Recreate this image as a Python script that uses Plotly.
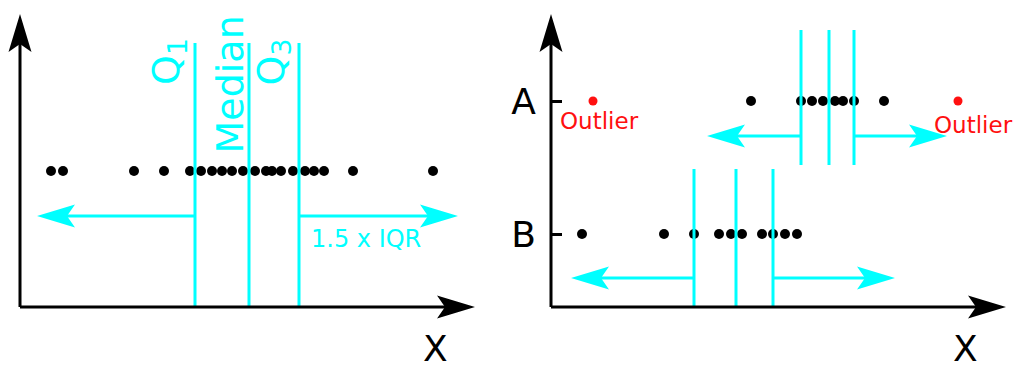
import plotly.graph_objects as go

# ---------------- data (X units) ----------------
left_values = [3.1, 4.3, 11.4, 14.4, 17.0, 18.1, 19.2, 20.2, 21.2, 22.3,
               23.5, 24.6, 25.2, 26.1, 27.3, 28.5, 29.4, 30.4, 33.3, 41.3]
left_quartiles = [17.5, 22.9, 27.9]          # Q1, median, Q3
left_fences = [1.7, 43.8]                    # Q1 - 1.5 IQR, Q3 + 1.5 IQR
left_labels = ["Q<sub>1</sub>", "Median", "Q<sub>3</sub>"]

groups = ["A", "B"]
group_a_values = [20.0, 25.0, 26.1, 27.2, 28.4, 29.2, 30.3, 33.3]
group_a_outliers = [4.2, 40.7]
group_a_quartiles = [25.0, 27.8, 30.3]
group_a_fences = [15.6, 39.6]
group_b_values = [3.1, 11.3, 14.3, 16.8, 18.0, 19.1, 21.1, 22.2, 23.4, 24.6]
group_b_quartiles = [14.3, 18.5, 22.2]
group_b_fences = [2.0, 34.4]

# ---------------- layout constants ----------------
PX = 10.0                     # pixels per unit on every axis
CYAN = "#00FFFF"
RED = "#FF1010"
BLACK = "#000000"
FONT = "DejaVu Sans"

# vertical levels (y units)
left_dot_level = 13.6
left_arrow_level = 9.1
left_line_span = (0.0, 26.4)
group_levels = {"A": 20.6, "B": 7.3}
group_line_spans = {"A": (14.2, 27.7), "B": (0.0, 13.8)}
group_arrow_levels = {"A": 17.1, "B": 2.9}
axis_x_end = 45.5
axis_y_end = 29.3

shapes = []


def arrow(xref, yref, x0, y0, x1, y1, color, width=3, L=38, W=11.5, N=8):
    dx, dy = x1 - x0, y1 - y0
    d = (dx * dx + dy * dy) ** 0.5
    ux, uy = dx / d, dy / d
    pxv, pyv = -uy, ux
    l, w, n = L / PX, W / PX, N / PX
    bx, by = x1 - ux * l, y1 - uy * l
    nx, ny = x1 - ux * (l - n), y1 - uy * (l - n)
    shapes.append(dict(type="line", xref=xref, yref=yref, x0=x0, y0=y0, x1=nx, y1=ny,
                       line=dict(color=color, width=width)))
    shapes.append(dict(type="path", xref=xref, yref=yref,
                       path=(f"M{x1},{y1} L{bx + pxv * w},{by + pyv * w} "
                             f"L{nx},{ny} L{bx - pxv * w},{by - pyv * w} Z"),
                       fillcolor=color, line=dict(width=0)))


def vline(xref, yref, x, span, color=CYAN, width=3):
    shapes.append(dict(type="line", xref=xref, yref=yref, x0=x, x1=x,
                       y0=span[0], y1=span[1], line=dict(color=color, width=width)))


fig = go.Figure()

# ---------- left panel ----------
fig.add_trace(go.Scatter(x=left_values, y=[left_dot_level] * len(left_values),
                         mode="markers", marker=dict(size=10, color=BLACK),
                         xaxis="x", yaxis="y", showlegend=False, hoverinfo="x"))
for q in left_quartiles:
    vline("x", "y", q, left_line_span)
arrow("x", "y", left_quartiles[0], left_arrow_level, left_fences[0], left_arrow_level, CYAN)
arrow("x", "y", left_quartiles[2], left_arrow_level, left_fences[1], left_arrow_level, CYAN)
# axes
arrow("x", "y", 0, 0, axis_x_end, 0, BLACK)
arrow("x", "y", 0, 0, 0, axis_y_end, BLACK)

# ---------- right panel ----------
fig.add_trace(go.Scatter(x=group_a_values, y=[group_levels["A"]] * len(group_a_values),
                         mode="markers", marker=dict(size=10, color=BLACK),
                         xaxis="x2", yaxis="y2", showlegend=False, hoverinfo="x"))
fig.add_trace(go.Scatter(x=group_a_outliers, y=[group_levels["A"]] * len(group_a_outliers),
                         mode="markers", marker=dict(size=9, color=RED),
                         xaxis="x2", yaxis="y2", showlegend=False, hoverinfo="x"))
fig.add_trace(go.Scatter(x=group_b_values, y=[group_levels["B"]] * len(group_b_values),
                         mode="markers", marker=dict(size=10, color=BLACK),
                         xaxis="x2", yaxis="y2", showlegend=False, hoverinfo="x"))
for g, qs, fs in (("A", group_a_quartiles, group_a_fences), ("B", group_b_quartiles, group_b_fences)):
    for q in qs:
        vline("x2", "y2", q, group_line_spans[g])
    lvl = group_arrow_levels[g]
    arrow("x2", "y2", qs[0], lvl, fs[0], lvl, CYAN)
    arrow("x2", "y2", qs[2], lvl, fs[1], lvl, CYAN)
arrow("x2", "y2", 0, 0, axis_x_end, 0, BLACK)
arrow("x2", "y2", 0, 0, 0, axis_y_end, BLACK)

# ---------- annotations ----------
annotations = []
label_pos = [(14.8, 24.5), (20.9, 22.25), (25.3, 24.45)]
for lab, (ax_, ay_) in zip(left_labels, label_pos):
    annotations.append(dict(text=lab, x=ax_, y=ay_, xref="x", yref="y", textangle=-90,
                            showarrow=False, xanchor="center", yanchor="middle",
                            font=dict(family=FONT, size=38, color=CYAN)))
annotations.append(dict(text="1.5 x IQR", x=34.6, y=6.8, xref="x", yref="y",
                        showarrow=False, font=dict(family=FONT, size=24, color=CYAN)))
annotations.append(dict(text="X", x=41.5, y=-1.9, xref="x", yref="y", yanchor="top",
                        showarrow=False, font=dict(family=FONT, size=36, color=BLACK)))
annotations.append(dict(text="X", x=41.4, y=-1.9, xref="x2", yref="y2", yanchor="top",
                        showarrow=False, font=dict(family=FONT, size=36, color=BLACK)))
annotations.append(dict(text="Outlier", x=4.85, y=18.6, xref="x2", yref="y2",
                        showarrow=False, font=dict(family=FONT, size=23, color=RED)))
annotations.append(dict(text="Outlier", x=42.25, y=18.2, xref="x2", yref="y2",
                        showarrow=False, font=dict(family=FONT, size=23, color=RED)))

W, H = 1015, 365
fig.update_layout(
    width=W, height=H, autosize=False,
    margin=dict(l=0, r=0, t=0, b=0, pad=0),
    paper_bgcolor="white", plot_bgcolor="white",
    showlegend=False,
    shapes=shapes, annotations=annotations,
    xaxis=dict(domain=[0, 0.5], range=[-2.0, -2.0 + 0.5 * W / PX], visible=False, anchor="y"),
    yaxis=dict(domain=[0, 1], range=[-5.8, -5.8 + H / PX], visible=False, anchor="x"),
    xaxis2=dict(domain=[0.5, 1], range=[-4.35, -4.35 + 0.5 * W / PX], visible=False, anchor="y2"),
    yaxis2=dict(domain=[0, 1], range=[-5.8, -5.8 + H / PX], anchor="free", position=551 / W,
                showgrid=False, zeroline=False, showline=False,
                ticks="inside", ticklen=10, tickwidth=3, tickcolor=BLACK,
                tickvals=[group_levels[g] for g in groups], ticktext=groups,
                tickfont=dict(family=FONT, size=36, color=BLACK), ticklabelstandoff=15),
)

fig.write_html("out.html", config={"displayModeBar": False},
               post_script="document.body.style.margin='0';document.body.style.overflow='hidden';")
